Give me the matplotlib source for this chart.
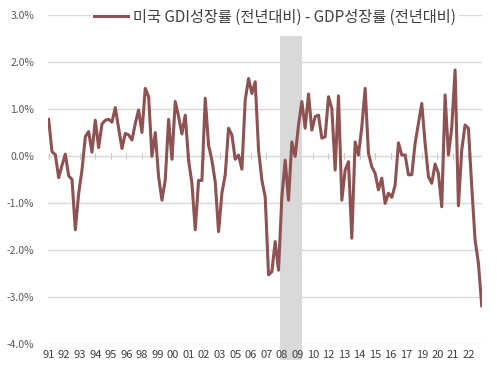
import matplotlib
matplotlib.use("Agg")
import matplotlib.pyplot as plt
import matplotlib.transforms as mtransforms
from matplotlib.patches import Rectangle
import numpy as np

plt.rcParams['font.family'] = ['Noto Sans CJK KR', 'DejaVu Sans']

# Quarterly series, 1991Q1 .. 2023Q3 (GDI growth YoY - GDP growth YoY, %)
start_year = 1991
gap = [
    0.78, 0.09, 0.03, -0.46, -0.20, 0.04, -0.42, -0.50, -1.57, -0.80,
    -0.30, 0.41, 0.52, 0.08, 0.76, 0.18, 0.68, 0.76, 0.78, 0.72,
    1.03, 0.60, 0.16, 0.48, 0.45, 0.34, 0.69, 0.98, 0.50, 1.44,
    1.26, -0.01, 0.50, -0.44, -0.94, -0.51, 0.78, -0.07, 1.16, 0.84,
    0.47, 0.87, -0.09, -0.58, -1.57, -0.52, -0.52, 1.23, 0.23, -0.09,
    -0.55, -1.61, -0.79, -0.40, 0.59, 0.45, -0.07, 0.02, -0.28, 1.19,
    1.65, 1.33, 1.58, 0.13, -0.51, -0.87, -2.53, -2.46, -1.82, -2.43,
    -0.87, -0.09, -0.94, 0.30, -0.01, 0.66, 1.16, 0.59, 1.32, 0.55,
    0.84, 0.87, 0.38, 0.41, 1.26, 1.01, -0.30, 1.28, -0.94, -0.30,
    -0.12, -1.75, 0.30, 0.02, 0.62, 1.44, 0.06, -0.23, -0.37, -0.72,
    -0.47, -1.01, -0.79, -0.88, -0.62, 0.28, 0.02, 0.02, -0.40, -0.40,
    0.27, 0.69, 1.12, 0.27, -0.44, -0.58, -0.17, -0.37, -1.08, 1.30,
    0.02, 0.60, 1.83, -1.06, 0.13, 0.66, 0.59, -0.65, -1.79, -2.28,
    -3.19,
]
recession = (2008.35, 2010.0)
tick_step_months = 14
n_ticks = 28
y_ticks = [3, 2, 1, 0, -1, -2, -3, -4]
legend_label = "미국 GDI성장률 (전년대비) - GDP성장률 (전년대비)"

t = start_year + np.arange(len(gap)) / 4.0
tick_pos = [start_year + k * tick_step_months / 12.0 for k in range(n_ticks)]
tick_lab = [f"{int(np.floor(p + 1e-9)) % 100:02d}" for p in tick_pos]

fig = plt.figure(figsize=(4.97, 3.69), dpi=100)
ax = fig.add_axes([48 / 497, 1 - 344 / 369, (482 - 48) / 497, (344 - 15) / 369])

ax.set_xlim(t[0] - 0.05, t[-1] + 0.02)
ax.set_ylim(-4, 3)

for sp in ax.spines.values():
    sp.set_visible(False)

ax.set_yticks(y_ticks)
ax.set_yticklabels([f"{v:.1f}%" for v in y_ticks], color='#595959', fontsize=7.5)
ax.tick_params(axis='y', length=0, pad=10)
ax.yaxis.grid(True, color='#D9D9D9', linewidth=1.0)
ax.yaxis.set_zorder(0.5)

ax.set_xticks(tick_pos)
ax.set_xticklabels(tick_lab, color='#404040', fontsize=8)
ax.tick_params(axis='x', length=0, pad=4)
ax.xaxis.set_zorder(5)

# tick marks on zero line
sec = ax.secondary_xaxis(4 / 7)
sec.set_xticks(tick_pos)
sec.set_xticklabels([])
sec.tick_params(axis='x', direction='inout', length=4, color='#BFBFBF', width=0.8)
sec.spines['bottom'].set_visible(False)
sec.spines['top'].set_visible(False)

trans = mtransforms.blended_transform_factory(ax.transData, ax.transAxes)
ax.add_patch(Rectangle((recession[0], -0.05), recession[1] - recession[0], 0.985,
                       transform=trans, facecolor='#D9D9D9', edgecolor='none',
                       zorder=1, clip_on=False))

line, = ax.plot(t, gap, color='#8E5252', linewidth=2.2, zorder=3,
                solid_joinstyle='round', label=legend_label)

leg = ax.legend(handles=[line], loc='center', bbox_to_anchor=(0.523, 0.994),
                frameon=True, fontsize=11, handlelength=2.2, handletextpad=0.3,
                borderpad=0.2, labelcolor='#404040')
leg.get_frame().set_facecolor('white')
leg.get_frame().set_edgecolor('none')
leg.get_frame().set_alpha(1)
leg.set_zorder(6)

fig.savefig("out.png", dpi=100)
